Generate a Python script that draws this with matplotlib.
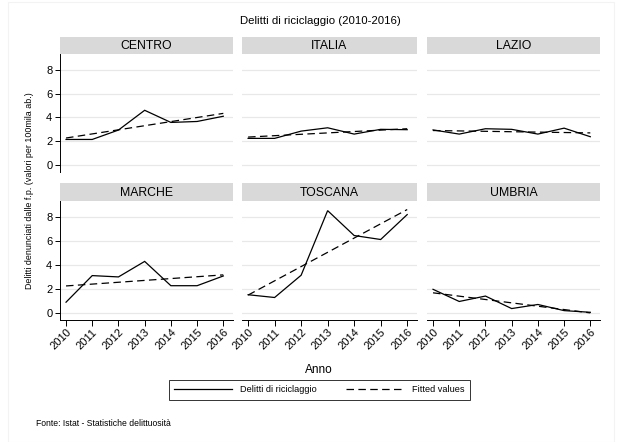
import matplotlib
matplotlib.use("Agg")
import matplotlib.pyplot as plt
from matplotlib.lines import Line2D
from matplotlib.patches import Rectangle

plt.rcParams['font.family'] = ['Liberation Sans', 'DejaVu Sans']

years = [2010, 2011, 2012, 2013, 2014, 2015, 2016]
regions = ["CENTRO", "ITALIA", "LAZIO", "MARCHE", "TOSCANA", "UMBRIA"]

centro = [2.15, 2.15, 2.94, 4.6, 3.58, 3.66, 4.1]
italia = [2.24, 2.24, 2.85, 3.13, 2.6, 3.0, 2.97]
lazio = [2.95, 2.6, 3.05, 3.0, 2.6, 3.1, 2.38]
marche = [0.92, 3.13, 3.02, 4.31, 2.29, 2.29, 3.1]
toscana = [1.54, 1.31, 3.16, 8.53, 6.46, 6.13, 8.2]
umbria = [1.99, 0.98, 1.43, 0.39, 0.73, 0.22, 0.08]

# fitted values at 2010 and 2016
fit_centro = [2.27, 4.34]
fit_italia = [2.35, 3.05]
fit_lazio = [2.9, 2.7]
fit_marche = [2.27, 3.19]
fit_toscana = [1.51, 8.62]
fit_umbria = [1.7, 0.03]

series = [centro, italia, lazio, marche, toscana, umbria]
fits = [fit_centro, fit_italia, fit_lazio, fit_marche, fit_toscana, fit_umbria]
yticks = [0, 2, 4, 6, 8]

W, H = 633, 442
fig = plt.figure(figsize=(W / 100, H / 100), dpi=100)
fig.patch.set_facecolor('white')

# faint outer graph-region border
fig.patches.append(Rectangle((8 / W, 0.5 / H), (614 - 8) / W, (441 - 1) / H,
                             transform=fig.transFigure, fill=False,
                             edgecolor='#f3f3f3', linewidth=0.8))

def fax(x0, y0, x1, y1):
    return fig.add_axes([x0 / W, 1 - y1 / H, (x1 - x0) / W, (y1 - y0) / H])

cols = [(60, 233), (242, 417), (427, 600)]
rows = [(37, 54, 171.7), (183, 201, 320)]

for i, (name, vals, fv) in enumerate(zip(regions, series, fits)):
    r, c = divmod(i, 3)
    x0, x1 = cols[c]
    hy0, hy1, py1 = rows[r]
    # header
    hax = fax(x0, hy0, x1, hy1)
    hax.set_facecolor('#d9d9d9')
    hax.set_xticks([]); hax.set_yticks([])
    for s in hax.spines.values():
        s.set_visible(False)
    hax.text(0.5, 0.45, name, ha='center', va='center', fontsize=8.8,
             transform=hax.transAxes)
    # plot
    ax = fax(x0, hy1, x1, py1)
    ax.set_xlim(2009.77, 2016.37)
    ax.set_ylim(-0.56, 9.33)
    for s in ['top', 'right']:
        ax.spines[s].set_visible(False)
    ax.set_yticks(yticks)
    ax.yaxis.grid(True, color='#e8e8e8', linewidth=0.9)
    ax.set_axisbelow(True)
    ax.plot(years, vals, color='black', linewidth=0.9, solid_joinstyle='miter')
    ax.plot([years[0], years[-1]], fv, color='black', linewidth=0.9,
            dashes=(6, 3.5))
    if c == 0:
        ax.spines['left'].set_linewidth(0.7)
        ax.tick_params(axis='y', length=3.5, width=0.7, labelsize=8, pad=2)
    else:
        ax.spines['left'].set_visible(False)
        ax.tick_params(axis='y', length=0, labelleft=False)
    ax.set_xticks(years)
    if r == 1:
        ax.spines['bottom'].set_linewidth(0.7)
        ax.tick_params(axis='x', length=4, width=0.7, labelsize=8, pad=1)
        ax.set_xticklabels([str(y) for y in years], rotation=45,
                           ha='right', va='top', rotation_mode='anchor')
    else:
        ax.spines['bottom'].set_visible(False)
        ax.tick_params(axis='x', length=0, labelbottom=False)

fig.text(320 / W, 1 - 21 / H, "Delitti di riciclaggio (2010-2016)",
         ha='center', va='center', fontsize=8.2)
fig.text(30 / W, 1 - 191 / H,
         "Delitti denunciati dalle f.p. (valori per 100mila ab.)",
         ha='center', va='center', rotation=90, fontsize=6.4)
fig.text(319 / W, 1 - 370 / H, "Anno", ha='center', va='center', fontsize=8.6)

handles = [Line2D([], [], color='black', linewidth=0.9),
           Line2D([], [], color='black', linewidth=0.9, dashes=(6, 3.5))]
leg = fig.legend(handles, ["Delitti di riciclaggio", "Fitted values"],
                 loc='center', bbox_to_anchor=(319.5 / W, 1 - 390 / H),
                 ncol=2, fontsize=6.6, frameon=True, fancybox=False,
                 edgecolor='black', handlelength=6.3, columnspacing=3.2,
                 borderpad=0.55, handletextpad=0.9, borderaxespad=0)
leg.get_frame().set_linewidth(0.7)

fig.text(36 / W, 1 - 423 / H, "Fonte: Istat - Statistiche delittuosità",
         ha='left', va='center', fontsize=6.2)

fig.savefig("out.png", dpi=100)
